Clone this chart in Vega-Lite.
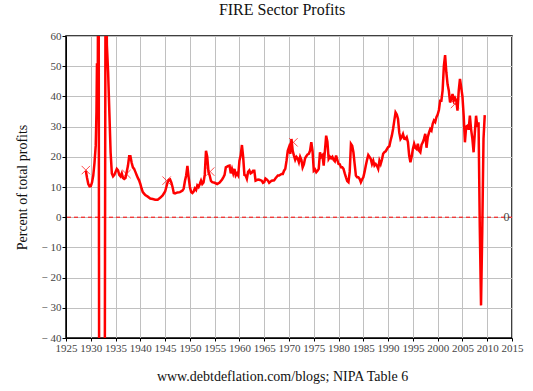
{
  "$schema": "https://vega.github.io/schema/vega-lite/v6.json",
  "width": 446,
  "height": 302,
  "autosize": {"type": "none"},
  "padding": {"left": 66, "top": 36, "right": 21, "bottom": 53},
  "background": "white",
  "title": {"text": "FIRE Sector Profits", "font": "Liberation Serif", "fontSize": 16, "fontWeight": "normal", "color": "#111", "offset": 12, "dx": -7},
  "config": {
    "view": {"stroke": "black", "strokeWidth": 1.5},
    "font": "Liberation Serif",
    "text": {"font": "Liberation Serif", "fontSize": 12},
    "axis": {"labelFont": "Liberation Serif", "titleFont": "Liberation Serif", "labelColor": "#444", "titleColor": "#111", "titleFontWeight": "normal", "gridColor": "#c0c0c0", "gridOpacity": 1, "domainColor": "black", "tickColor": "black", "labelFontSize": 11}
  },
  "datasets": {
    "series": [
      {"year":1929.0,"v":15.4},{"year":1929.25,"v":13},{"year":1929.5,"v":11},{"year":1929.75,"v":10.2},{"year":1930.0,"v":10.3},{"year":1930.25,"v":11.5},{"year":1930.5,"v":13.8},{"year":1930.75,"v":18},{"year":1931.0,"v":23.7},{"year":1931.15,"v":35},{"year":1931.25,"v":51},{"year":1931.4,"v":40},{"year":1931.5,"v":90},{"year":1931.6,"v":70},{"year":1931.75,"v":-150},{"year":1932.0,"v":-150},{"year":1932.25,"v":-150},{"year":1932.5,"v":-150},{"year":1932.75,"v":-120},{"year":1933.0,"v":100},{"year":1933.25,"v":57},{"year":1933.5,"v":48},{"year":1933.75,"v":34.7},{"year":1934.0,"v":21.5},{"year":1934.25,"v":14.5},{"year":1934.5,"v":13.5},{"year":1934.75,"v":14},{"year":1935.0,"v":15},{"year":1935.25,"v":16},{"year":1935.5,"v":15.5},{"year":1935.75,"v":14},{"year":1936.0,"v":13.5},{"year":1936.25,"v":14.5},{"year":1936.5,"v":13},{"year":1936.75,"v":12.7},{"year":1937.0,"v":13},{"year":1937.25,"v":15},{"year":1937.5,"v":17},{"year":1937.75,"v":20.2},{"year":1938.0,"v":20.2},{"year":1938.25,"v":18},{"year":1938.5,"v":16.5},{"year":1938.75,"v":16},{"year":1939.0,"v":15},{"year":1939.25,"v":14},{"year":1939.5,"v":13},{"year":1939.75,"v":12.2},{"year":1940.0,"v":11},{"year":1940.25,"v":9.5},{"year":1940.5,"v":8.3},{"year":1940.75,"v":7.8},{"year":1941.0,"v":7.3},{"year":1941.5,"v":6.8},{"year":1942.0,"v":6.2},{"year":1942.5,"v":6},{"year":1943.0,"v":5.8},{"year":1943.5,"v":5.8},{"year":1944.0,"v":6.4},{"year":1944.5,"v":7.2},{"year":1945.0,"v":8.5},{"year":1945.25,"v":10},{"year":1945.5,"v":11.6},{"year":1945.75,"v":12.3},{"year":1946.0,"v":12.5},{"year":1946.25,"v":11.5},{"year":1946.5,"v":10},{"year":1946.75,"v":8},{"year":1947.0,"v":7.9},{"year":1947.5,"v":8.2},{"year":1948.0,"v":8.3},{"year":1948.5,"v":8.8},{"year":1948.75,"v":9.5},{"year":1949.0,"v":12},{"year":1949.25,"v":13.8},{"year":1949.5,"v":17},{"year":1949.75,"v":13.2},{"year":1950.0,"v":10},{"year":1950.25,"v":8.3},{"year":1950.5,"v":8},{"year":1950.75,"v":8.5},{"year":1951.0,"v":9.5},{"year":1951.25,"v":9},{"year":1951.5,"v":10.5},{"year":1951.75,"v":10},{"year":1952.0,"v":11},{"year":1952.25,"v":12.1},{"year":1952.5,"v":11},{"year":1952.75,"v":11.5},{"year":1953.0,"v":14},{"year":1953.25,"v":22},{"year":1953.5,"v":20},{"year":1953.75,"v":15},{"year":1954.0,"v":13.8},{"year":1954.25,"v":12},{"year":1954.5,"v":11.6},{"year":1955.0,"v":11.4},{"year":1955.5,"v":11},{"year":1956.0,"v":11.5},{"year":1956.5,"v":12.5},{"year":1956.75,"v":13.2},{"year":1957.0,"v":14},{"year":1957.25,"v":16.5},{"year":1957.75,"v":17},{"year":1958.0,"v":17.1},{"year":1958.25,"v":14.5},{"year":1958.5,"v":16},{"year":1958.75,"v":14.5},{"year":1959.0,"v":16},{"year":1959.25,"v":13.8},{"year":1959.5,"v":14.5},{"year":1959.75,"v":13.8},{"year":1960.0,"v":18.7},{"year":1960.25,"v":20.5},{"year":1960.5,"v":23.9},{"year":1960.75,"v":20},{"year":1961.0,"v":14},{"year":1961.25,"v":13.8},{"year":1961.5,"v":12.7},{"year":1961.75,"v":15},{"year":1962.0,"v":15.5},{"year":1962.25,"v":14.5},{"year":1962.5,"v":14.8},{"year":1962.75,"v":15.4},{"year":1963.0,"v":15.4},{"year":1963.25,"v":12.1},{"year":1963.5,"v":12.3},{"year":1963.75,"v":12.5},{"year":1964.0,"v":12.4},{"year":1964.5,"v":12.1},{"year":1964.75,"v":11.4},{"year":1965.0,"v":11.6},{"year":1965.25,"v":12.8},{"year":1965.5,"v":12.5},{"year":1965.75,"v":12.1},{"year":1966.0,"v":11.4},{"year":1966.5,"v":12.1},{"year":1967.0,"v":12.2},{"year":1967.25,"v":12.8},{"year":1967.75,"v":13.8},{"year":1968.0,"v":13.8},{"year":1968.5,"v":14.3},{"year":1968.75,"v":14.3},{"year":1969.0,"v":15.4},{"year":1969.25,"v":16},{"year":1969.5,"v":18.7},{"year":1969.75,"v":22},{"year":1970.0,"v":23.2},{"year":1970.25,"v":21},{"year":1970.5,"v":25.9},{"year":1970.75,"v":22},{"year":1971.0,"v":20.4},{"year":1971.25,"v":19},{"year":1971.5,"v":20},{"year":1971.75,"v":19.5},{"year":1972.0,"v":18.2},{"year":1972.25,"v":20},{"year":1972.5,"v":19},{"year":1972.75,"v":16.5},{"year":1973.0,"v":17.5},{"year":1973.25,"v":19.5},{"year":1973.5,"v":20.2},{"year":1973.75,"v":20.8},{"year":1974.0,"v":21},{"year":1974.25,"v":22},{"year":1974.5,"v":24.8},{"year":1974.75,"v":22},{"year":1975.0,"v":15.4},{"year":1975.25,"v":15.8},{"year":1975.5,"v":14.9},{"year":1975.75,"v":15.4},{"year":1976.0,"v":16},{"year":1976.25,"v":21.5},{"year":1976.5,"v":20},{"year":1976.75,"v":20.5},{"year":1977.0,"v":17.1},{"year":1977.25,"v":22},{"year":1977.5,"v":27},{"year":1977.75,"v":25},{"year":1978.0,"v":19.3},{"year":1978.25,"v":20},{"year":1978.5,"v":19.5},{"year":1978.75,"v":20},{"year":1979.0,"v":19},{"year":1979.25,"v":18.5},{"year":1979.5,"v":20.4},{"year":1979.75,"v":19},{"year":1980.0,"v":17.6},{"year":1980.25,"v":17.5},{"year":1980.5,"v":16.5},{"year":1980.75,"v":16.5},{"year":1981.0,"v":16},{"year":1981.25,"v":14.5},{"year":1981.5,"v":13.2},{"year":1981.75,"v":12},{"year":1982.0,"v":11.6},{"year":1982.25,"v":15},{"year":1982.5,"v":24.3},{"year":1982.75,"v":23.7},{"year":1983.0,"v":21.5},{"year":1983.25,"v":17.6},{"year":1983.5,"v":13.8},{"year":1983.75,"v":13.2},{"year":1984.0,"v":13.2},{"year":1984.25,"v":12.7},{"year":1984.5,"v":11.6},{"year":1984.75,"v":12.5},{"year":1985.0,"v":13.2},{"year":1985.25,"v":15},{"year":1985.5,"v":17.1},{"year":1985.75,"v":19},{"year":1986.0,"v":20.6},{"year":1986.25,"v":20},{"year":1986.5,"v":19.3},{"year":1986.75,"v":17.6},{"year":1987.0,"v":18.7},{"year":1987.25,"v":17.1},{"year":1987.5,"v":17.6},{"year":1987.75,"v":17},{"year":1988.0,"v":16},{"year":1988.25,"v":18.7},{"year":1988.5,"v":17.6},{"year":1988.75,"v":19},{"year":1989.0,"v":21},{"year":1989.25,"v":21.5},{"year":1989.5,"v":21.8},{"year":1989.75,"v":22.5},{"year":1990.0,"v":23.2},{"year":1990.25,"v":23.5},{"year":1990.5,"v":25.4},{"year":1990.75,"v":27},{"year":1991.0,"v":29.2},{"year":1991.25,"v":32},{"year":1991.5,"v":34.7},{"year":1991.75,"v":34},{"year":1992.0,"v":32.5},{"year":1992.25,"v":28},{"year":1992.5,"v":25.9},{"year":1992.75,"v":26.5},{"year":1993.0,"v":27.5},{"year":1993.25,"v":26},{"year":1993.5,"v":25.9},{"year":1993.75,"v":26.5},{"year":1994.0,"v":24.8},{"year":1994.25,"v":20.4},{"year":1994.5,"v":18.2},{"year":1994.75,"v":20},{"year":1995.0,"v":22.6},{"year":1995.25,"v":24.3},{"year":1995.5,"v":23},{"year":1995.75,"v":22.6},{"year":1996.0,"v":24.3},{"year":1996.25,"v":22},{"year":1996.5,"v":21.5},{"year":1996.75,"v":24},{"year":1997.0,"v":24.8},{"year":1997.25,"v":26},{"year":1997.5,"v":27.6},{"year":1997.75,"v":23},{"year":1998.0,"v":26.5},{"year":1998.25,"v":28},{"year":1998.5,"v":29.2},{"year":1998.75,"v":28.7},{"year":1999.0,"v":30.9},{"year":1999.25,"v":32},{"year":1999.5,"v":31.5},{"year":1999.75,"v":33.1},{"year":2000.0,"v":34},{"year":2000.25,"v":35.5},{"year":2000.5,"v":38.6},{"year":2000.75,"v":38.6},{"year":2001.0,"v":42},{"year":2001.25,"v":50},{"year":2001.5,"v":53.7},{"year":2001.75,"v":48},{"year":2002.0,"v":44},{"year":2002.25,"v":41.9},{"year":2002.5,"v":38},{"year":2002.75,"v":39},{"year":2003.0,"v":40.8},{"year":2003.25,"v":38.6},{"year":2003.5,"v":39.5},{"year":2003.75,"v":38.6},{"year":2004.0,"v":35.3},{"year":2004.25,"v":41.9},{"year":2004.5,"v":45.8},{"year":2004.75,"v":43},{"year":2005.0,"v":40},{"year":2005.25,"v":33.6},{"year":2005.5,"v":24.8},{"year":2005.75,"v":30},{"year":2006.0,"v":30.3},{"year":2006.25,"v":29},{"year":2006.5,"v":33.6},{"year":2006.75,"v":29},{"year":2007.0,"v":26},{"year":2007.25,"v":21.5},{"year":2007.5,"v":28},{"year":2007.75,"v":33.6},{"year":2008.0,"v":30},{"year":2008.25,"v":31.4},{"year":2008.5,"v":-3.3},{"year":2008.75,"v":-29.2},{"year":2009.0,"v":-4.4},{"year":2009.25,"v":25.9},{"year":2009.5,"v":33.8}
    ],
    "markers": [
      {"year":1929.0,"v":15.6},{"year":1937.2,"v":14.3},{"year":1945.3,"v":12.1},{"year":1954.1,"v":15.1},{"year":1970.9,"v":24.8},{"year":2003.5,"v":37.5}
    ],
    "zero": [{"year":2013.9,"v":0,"label":"0"}]
  },
  "layer": [
    {
      "data": {"name": "series"},
      "mark": {"type": "line", "color": "red", "strokeWidth": 2.5, "clip": true},
      "encoding": {
        "x": {"field": "year", "type": "quantitative", "scale": {"domain": [1925, 2015], "nice": false, "zero": false},
          "axis": {"values": [1925,1930,1935,1940,1945,1950,1955,1960,1965,1970,1975,1980,1985,1990,1995,2000,2005,2010,2015], "tickCount": 19, "format": "d", "labelFont": "Liberation Serif", "labelFontSize": 11, "labelColor": "#444", "labelPadding": 1, "tickSize": 3, "labelOverlap": false, "labelBound": false, "labelFlush": false, "title": "www.debtdeflation.com/blogs; NIPA Table 6", "titleFontSize": 14, "titlePadding": 16, "titleX": 216,
            "encode": {"labels": {"update": {"font": {"value": "Liberation Serif"}, "fontSize": {"value": 11}}}}}},
        "y": {"field": "v", "type": "quantitative", "scale": {"domain": [-40, 60], "nice": false},
          "axis": {"values": [-40,-30,-20,-10,0,10,20,30,40,50,60], "tickCount": 11, "labelFont": "Liberation Serif", "labelFontSize": 11, "labelColor": "#444", "tickSize": 4, "labelPadding": 1, "labelOverlap": false, "labelExpr": "datum.value < 0 ? '\u2212 ' + abs(datum.value) : datum.label", "title": "Percent of total profits", "titleFontSize": 14, "titlePadding": 12,
            "encode": {"labels": {"update": {"font": {"value": "Liberation Serif"}, "fontSize": {"value": 11}, "text": {"signal": "datum.value < 0 ? '\u2212 ' + abs(datum.value) : datum.label"}}}}}}
      }
    },
    {
      "data": {"name": "zero"},
      "mark": {"type": "rule", "color": "red", "strokeDash": [4, 3], "strokeWidth": 1},
      "encoding": {"y": {"field": "v", "type": "quantitative"}}
    },
    {
      "data": {"name": "markers"},
      "mark": {"type": "point", "shape": "M-1,-1L1,1M-1,1L1,-1", "size": 70, "filled": false, "color": "red", "strokeWidth": 1},
      "encoding": {"x": {"field": "year", "type": "quantitative"}, "y": {"field": "v", "type": "quantitative"}}
    },
    {
      "data": {"name": "zero"},
      "mark": {"type": "text", "font": "Liberation Serif", "fontSize": 12, "color": "#444"},
      "encoding": {"x": {"field": "year", "type": "quantitative"}, "y": {"field": "v", "type": "quantitative"}, "text": {"field": "label"}}
    }
  ]
}
